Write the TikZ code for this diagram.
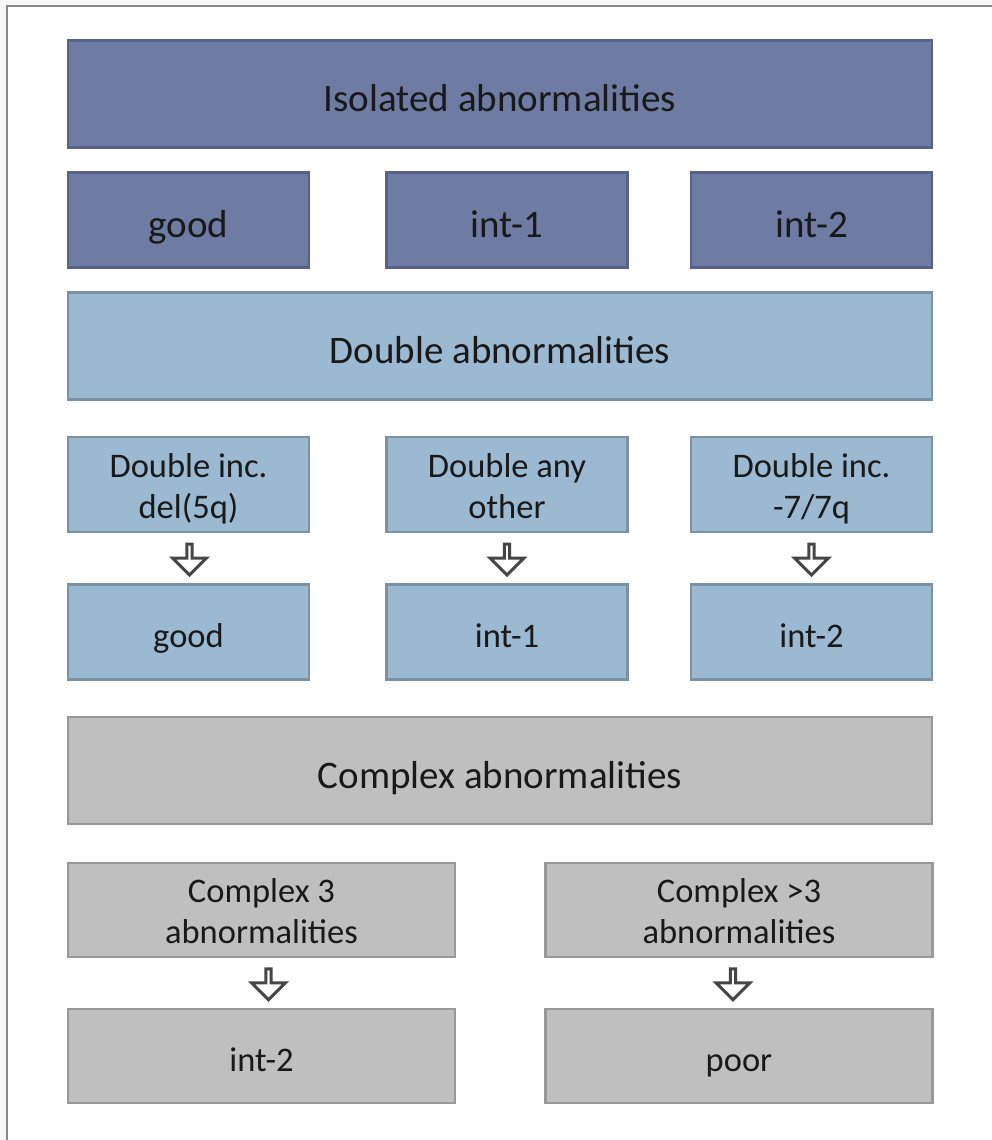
\documentclass[tikz,border=0pt]{standalone}
\usepackage{fontspec}
\setmainfont{Carlito}
\usetikzlibrary{shapes.arrows,calc}
\definecolor{isofill}{RGB}{110,124,163}
\definecolor{isoline}{RGB}{86,98,135}
\definecolor{dblfill}{RGB}{155,185,208}
\definecolor{dblline}{RGB}{122,146,166}
\definecolor{cpxfill}{RGB}{191,191,191}
\definecolor{cpxline}{RGB}{152,152,152}
\definecolor{outerbg}{RGB}{246,246,246}
\definecolor{frameline}{RGB}{136,136,136}
\definecolor{arrowline}{RGB}{70,70,70}
\tikzset{
  boxbase/.style={rectangle, line width=2.4pt, inner sep=0pt, align=center, text=black!90},
  bigtext/.style={font=\fontsize{39}{47}\selectfont, text height=35pt, text depth=0pt},
  smalltext/.style={font=\fontsize{34.5}{41}\selectfont, text height=30pt, text depth=0pt},
  twoline/.style={font=\fontsize{34.5}{41}\selectfont, text height=67pt, text depth=0pt},
  isobox/.style={boxbase, fill=isofill, draw=isoline},
  dblbox/.style={boxbase, fill=dblfill, draw=dblline},
  cpxbox/.style={boxbase, fill=cpxfill, draw=cpxline},
  wide/.style={minimum width=864pt, minimum height=107pt},
  third/.style={minimum width=241pt, minimum height=95pt},
  half/.style={minimum width=387pt, minimum height=94pt},
  hollowarrow/.style={single arrow, draw=arrowline, fill=white, line width=3pt,
    shape border rotate=270, minimum height=31pt, minimum width=34pt,
    single arrow head extend=8pt, single arrow head indent=0pt, inner sep=0pt}
}
\begin{document}
\begin{tikzpicture}[x=1pt,y=1pt]
\path[use as bounding box] (0,0) rectangle (992,-1140);
\fill[outerbg] (0,0) rectangle (992,-1140);
\fill[white] (6.5,-6.5) rectangle (992,-1140);
\draw[frameline, line width=2pt] (6.5,-1140) -- (6.5,-6.5) -- (992,-6.5);

% Isolated
\node[isobox, wide, bigtext] (iso) at (500,-94) {Isolated abnormalities};
\node[isobox, third, bigtext] (isogood) at (188.5,-220) {good};
\node[isobox, third, bigtext] (isoint1) at (507,-220) {int-1};
\node[isobox, third, bigtext] (isoint2) at (811.5,-220) {int-2};

% Double
\node[dblbox, wide, bigtext] (dbl) at (500,-346) {Double abnormalities};
\node[dblbox, third, twoline] (dbla) at (188.5,-484.5) {Double inc.\\del(5q)};
\node[dblbox, third, twoline] (dblb) at (507,-484.5) {Double any\\other};
\node[dblbox, third, twoline] (dblc) at (811.5,-484.5) {Double inc.\\-7/7q};
\node[dblbox, third, smalltext] (dblgood) at (188.5,-632) {good};
\node[dblbox, third, smalltext] (dblint1) at (507,-632) {int-1};
\node[dblbox, third, smalltext] (dblint2) at (811.5,-632) {int-2};
\node[hollowarrow, xshift=1pt] (arra) at ($(dbla.south)!0.5!(dblgood.north)$) {};
\node[hollowarrow] (arrb) at ($(dblb.south)!0.5!(dblint1.north)$) {};
\node[hollowarrow] (arrc) at ($(dblc.south)!0.5!(dblint2.north)$) {};

% Complex
\node[cpxbox, wide, bigtext] (cpx) at (500,-770.5) {Complex abnormalities};
\node[cpxbox, half, twoline] (cpxa) at (261.5,-910) {Complex 3\\abnormalities};
\node[cpxbox, half, twoline] (cpxb) at (739,-910) {Complex >3\\abnormalities};
\node[cpxbox, half, smalltext] (cpxint2) at (261.5,-1056) {int-2};
\node[cpxbox, half, smalltext] (cpxpoor) at (739,-1056) {poor};
\node[hollowarrow, xshift=7pt] (arrd) at ($(cpxa.south)!0.5!(cpxint2.north)$) {};
\node[hollowarrow, xshift=-6pt] (arre) at ($(cpxb.south)!0.5!(cpxpoor.north)$) {};
\end{tikzpicture}
\end{document}
